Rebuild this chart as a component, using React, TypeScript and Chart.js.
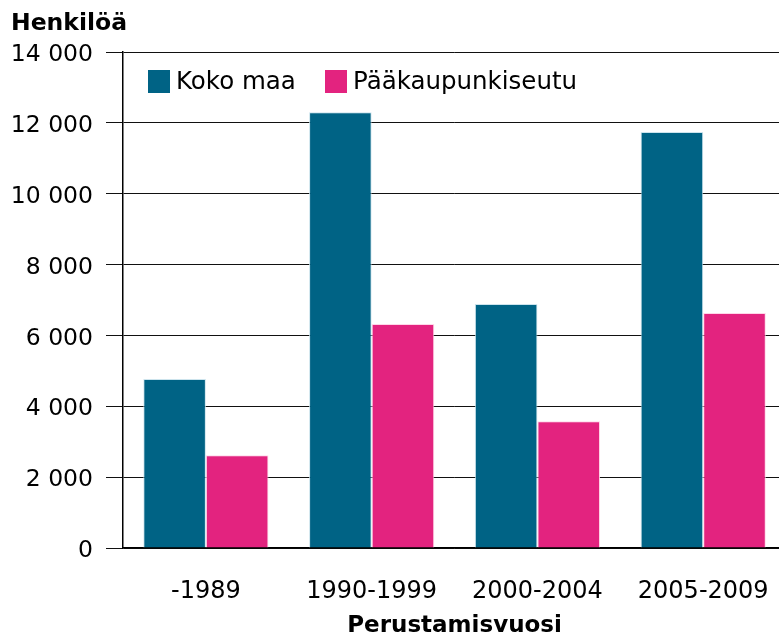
import React, { useEffect, useRef } from "react";
import { Chart, registerables } from "chart.js";

Chart.register(...registerables);

const categories = ["-1989", "1990-1999", "2000-2004", "2005-2009"];
const kokoMaa = [4770, 12300, 6890, 11740];
const paakaupunkiseutu = [2620, 6320, 3580, 6630];
const seriesNames = ["Koko maa", "Pääkaupunkiseutu"];
const yTitle = "Henkilöä";
const xTitle = "Perustamisvuosi";

const TEAL = "#006385";
const PINK = "#e3237f";
const FONT = "'DejaVu Sans', Verdana, sans-serif";

const fmt = (v: number) => String(v).replace(/\B(?=(\d{3})+(?!\d))/g, " ");

const overlayPlugin = {
  id: "overlay",
  afterDraw(chart: any) {
    const { ctx, chartArea } = chart;
    ctx.save();
    ctx.fillStyle = "#000";
    ctx.font = `bold 23.5px ${FONT}`;
    ctx.textAlign = "left";
    ctx.textBaseline = "alphabetic";
    ctx.fillText(yTitle, 11, 30);
    const colors = [TEAL, PINK];
    const xs = [chartArea.left + 25, chartArea.left + 202];
    ctx.font = `24.5px ${FONT}`;
    ctx.textBaseline = "middle";
    for (let i = 0; i < seriesNames.length; i++) {
      ctx.fillStyle = colors[i];
      ctx.fillRect(xs[i], chartArea.top + 18, 22, 23);
      ctx.fillStyle = "#000";
      ctx.fillText(seriesNames[i], xs[i] + 28, chartArea.top + 31);
    }
    ctx.restore();
  },
};

export default function App() {
  const ref = useRef<HTMLCanvasElement>(null);
  useEffect(() => {
    if (!ref.current) return;
    Chart.defaults.font.family = FONT;
    const chart = new Chart(ref.current, {
      type: "bar",
      data: {
        labels: categories,
        datasets: [
          {
            label: seriesNames[0],
            data: kokoMaa,
            backgroundColor: TEAL,
            borderColor: "rgba(200,225,235,0.9)",
            borderWidth: 1,
            barPercentage: 1,
            categoryPercentage: 0.755,
          },
          {
            label: seriesNames[1],
            data: paakaupunkiseutu,
            backgroundColor: PINK,
            borderColor: "rgba(255,210,230,0.9)",
            borderWidth: 1,
            barPercentage: 1,
            categoryPercentage: 0.755,
          },
        ],
      },
      options: {
        animation: false,
        responsive: false,
        maintainAspectRatio: false,
        layout: { padding: { top: 52, right: 3, left: 0, bottom: 0 } },
        plugins: {
          legend: { display: false },
          title: { display: false },
          tooltip: { enabled: false },
        },
        scales: {
          x: {
            grid: { display: false },
            border: { display: true, color: "#000", width: 1.5 },
            ticks: { color: "#000", font: { size: 24 }, padding: 21, maxRotation: 0 },
            title: {
              display: true,
              text: xTitle,
              color: "#000",
              font: { size: 23, weight: "bold" },
              padding: { top: 0, bottom: 1 },
            },
            afterFit: (s: any) => {
              s.height = 93;
            },
          },
          y: {
            min: 0,
            max: 14000,
            ticks: {
              stepSize: 2000,
              color: "#000",
              font: { size: 23.5 },
              padding: 13,
              labelOffset: 3,
              callback: (v: any) => fmt(Number(v)),
            },
            grid: { color: "#111", lineWidth: 1, tickLength: 17, drawTicks: true },
            border: { display: true, color: "#000", width: 1.5 },
            afterFit: (s: any) => {
              s.width = 123;
            },
          },
        },
      },
      plugins: [overlayPlugin],
    } as any);
    return () => chart.destroy();
  }, []);
  return (
    <div style={{ position: "absolute", left: 0, top: 0, width: 779, height: 641, overflow: "hidden", background: "#fff" }}>
      <canvas ref={ref} width={790} height={641} style={{ display: "block" }} />
    </div>
  );
}
